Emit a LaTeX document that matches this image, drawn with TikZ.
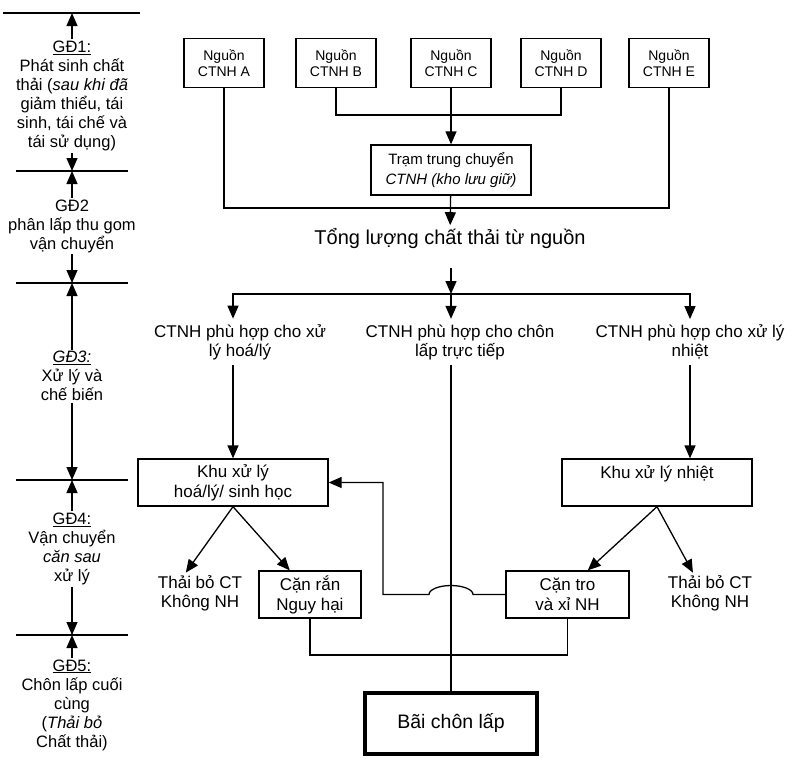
\documentclass[tikz,border=0pt]{standalone}
\usepackage{fontspec}
\setmainfont{Liberation Sans}
\usetikzlibrary{arrows.meta}

\begin{document}
\begin{tikzpicture}[x=1pt, y=-1pt, line width=1.3pt,
  muiten/.style={-{Triangle[length=13pt,width=11pt]}},
  nguon/.style={draw, minimum width=80pt, minimum height=49pt, inner sep=0pt, align=center, font=\fontsize{14}{16}\selectfont},
  hop/.style={draw, minimum height=47pt, inner sep=0pt, align=center, font=\fontsize{17}{20}\selectfont},
  chu/.style={align=center, inner sep=5pt, font=\fontsize{17}{19}\selectfont},
  giaidoan/.style={align=center, inner sep=1pt, font=\fontsize{16.5}{19}\selectfont}]
\useasboundingbox (0,0) rectangle (791,758);

% cot giai doan ben trai
\coordinate (m1a) at (3,13);
\coordinate (m1b) at (140,13);
\draw (m1a) -- (m1b);
\foreach \i/\y in {2/171,3/283,4/480,5/635}
  {\coordinate (m\i) at (72,\y);
   \draw ([xshift=-56pt]m\i) -- ([xshift=56pt]m\i);}

\node[giaidoan] (gd1) at (72,96) {\underline{GĐ1:}\\Phát sinh chất\\thải (\textit{sau khi đã}\\giảm thiểu, tái\\sinh, tái chế và\\tái sử dụng)};
\node[giaidoan] (gd2) at (72,226) {GĐ2\\phân lấp thu gom\\vận chuyển};
\node[giaidoan] (gd3) at (72,376) {\underline{\textit{GĐ3:}}\\Xử lý và\\chế biến};
\node[giaidoan] (gd4) at (72,549) {\underline{GĐ4:}\\Vận chuyển\\\textit{căn sau}\\xử lý};
\node[giaidoan] (gd5) at (72,705) {\underline{GĐ5:}\\Chôn lấp cuối\\cùng\\(\textit{Thải bỏ}\\Chất thải)};

\draw[muiten] (gd1.north) -- (gd1.north |- m1a);
\foreach \a/\b in {1/2,2/3,3/4,4/5}
  {\draw[muiten] (gd\a.south) -- (gd\a.south |- m\b);
   \draw[muiten] (gd\b.north) -- (gd\b.north |- m\b);}

% nguon chat thai
\node[nguon] (nguonA) at (224,63) {Nguồn\\CTNH A};
\node[nguon] (nguonB) at (336,63) {Nguồn\\CTNH B};
\node[nguon] (nguonC) at (451,63) {Nguồn\\CTNH C};
\node[nguon] (nguonD) at (561,63) {Nguồn\\CTNH D};
\node[nguon] (nguonE) at (669,63) {Nguồn\\CTNH E};
\node[hop, minimum width=160pt, minimum height=50pt, font=\fontsize{15}{20}\selectfont] (tram) at (451,170) {Trạm trung chuyển\\\textit{CTNH (kho lưu giữ)}};
\node[font=\fontsize{20}{22}\selectfont, inner sep=2pt] (tong) at (450,238) {Tổng lượng chất thải từ nguồn};

\coordinate (noiBD) at (451,115);
\coordinate (noiAE) at (451,208);
\coordinate (vao) at (451,268);
\coordinate (nhanh) at (451,294);

% phan loai va xu ly
\node[chu] (hoaly) at (240,342) {CTNH phù hợp cho xử\\lý hoá/lý};
\node[chu] (chon) at (460,342) {CTNH phù hợp cho chôn\\lấp trực tiếp};
\node[chu] (nhiet) at (690,342) {CTNH phù hợp cho xử lý\\nhiệt};
\node[hop, minimum width=190pt] (khuHL) at (233,482.5) {Khu xử lý\\hoá/lý/ sinh học};
\node[hop, minimum width=190pt] (khuN) at (657,482.5) {Khu xử lý nhiệt\\\mbox{}};
\node[hop, minimum width=102pt] (canRan) at (310,594.5) {Cặn rắn\\Nguy hại};
\node[hop, minimum width=123pt] (canTro) at (567.5,594.5) {Cặn tro\\và xỉ NH};
\node[chu, inner sep=2pt] (thaiL) at (200,593) {Thải bỏ CT\\Không NH};
\node[chu, inner sep=2pt] (thaiR) at (710,593) {Thải bỏ CT\\Không NH};
\node[hop, line width=4pt, minimum width=172pt, minimum height=61pt, font=\fontsize{19.5}{22}\selectfont] (bai) at (451,723.5) {Bãi chôn lấp};

\coordinate (gopCan) at (451,655);
\coordinate (cauP) at (473,594.5);
\coordinate (cauT) at (383,594.5);

\draw (nguonB.south) |- (noiBD) -| (nguonD.south);
\draw[muiten] (nguonC) -- (tram);
\draw (nguonA.south) |- (noiAE) -| (nguonE.south);
\draw[muiten] (tram) -- (tong);
\draw[muiten] (vao) -- (nhanh);
\draw[muiten] (nhanh) -| (hoaly.north -| khuHL.north);
\draw[muiten] (nhanh) -| (nhiet.north);
\draw[muiten] (nhanh) -- (nhanh |- chon.north);
\draw[muiten] (hoaly.south -| khuHL.north) -- (khuHL.north);
\draw[muiten] (nhiet.south) -- (nhiet.south |- khuN.north);
\draw (nhanh |- chon.south) -- (nhanh |- bai.north);
\draw[muiten] (khuHL.south) -- (thaiL.125);
\draw[muiten] (khuHL.south) -- (canRan.130);
\draw[muiten] (khuN.south) -- (canTro.50);
\draw[muiten] (khuN.south) -- (thaiR.130);
\draw (canRan.south) |- (gopCan) -| (canTro.south);
\draw[muiten] (canTro.west) -- (cauP) arc[start angle=0, end angle=180, x radius=22pt, y radius=9pt] -- (cauT) |- (khuHL.east);
\end{tikzpicture}
\end{document}
